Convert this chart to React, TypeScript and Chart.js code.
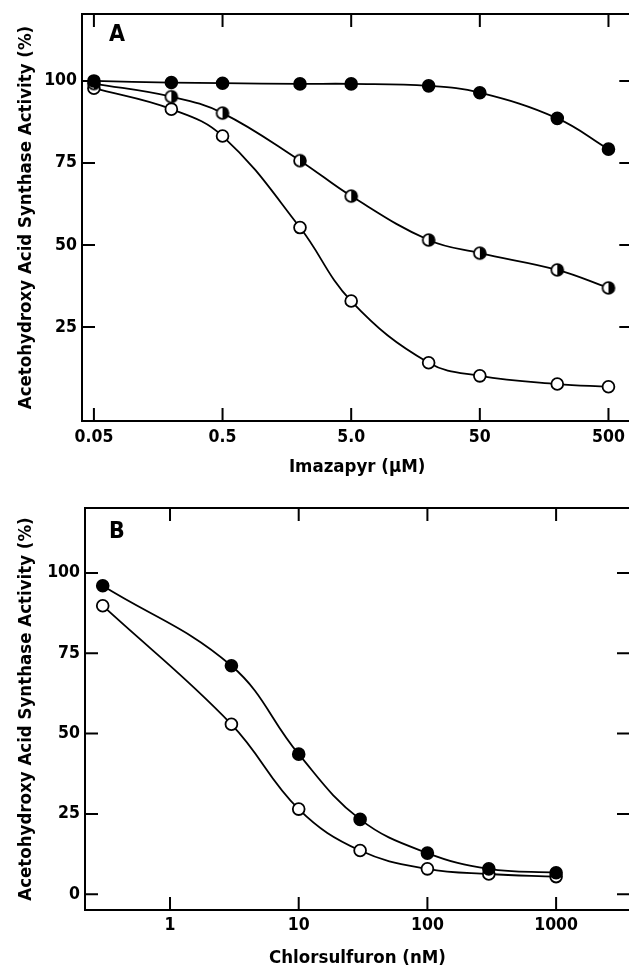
import React, { useEffect, useRef } from "react";
import { Chart, registerables } from "chart.js";

Chart.register(...registerables);

// ---------- Panel A: Imazapyr ----------
const imazapyrConc = [0.05, 0.2, 0.5, 2, 5, 20, 50, 200, 500];
const imazapyrFilled = [100, 99.5, 99.3, 99.1, 99.1, 98.5, 96.4, 88.6, 79.2];
const imazapyrHalf = [99.2, 95.2, 90.2, 75.7, 64.9, 51.5, 47.5, 42.4, 36.9];
const imazapyrOpen = [97.8, 91.4, 83.2, 55.3, 32.9, 14.1, 10.1, 7.6, 6.8];
const imazapyrTicks = [0.05, 0.5, 5, 50, 500];
const imazapyrTickLabels = ["0.05", "0.5", "5.0", "50", "500"];
const panelAYTicks = [25, 50, 75, 100];

// ---------- Panel B: Chlorsulfuron ----------
const chlorConc = [0.3, 3, 10, 30, 100, 300, 1000];
const chlorFilled = [96.0, 71.1, 43.6, 23.3, 12.8, 7.9, 6.7];
const chlorOpen = [89.8, 52.9, 26.5, 13.6, 7.9, 6.3, 5.5];
const chlorTicks = [1, 10, 100, 1000];
const chlorTickLabels = ["1", "10", "100", "1000"];
const panelBYTicks = [0, 25, 50, 75, 100];

const yTitle = "Acetohydroxy Acid Synthase Activity (%)";
const FONT = "'DejaVu Sans Condensed', 'DejaVu Sans', sans-serif";
const R = 5.9;

function halfMarker(): HTMLCanvasElement {
  const c = document.createElement("canvas");
  c.width = 16;
  c.height = 16;
  const ctx = c.getContext("2d")!;
  ctx.beginPath();
  ctx.arc(8, 8, R, 0, Math.PI * 2);
  ctx.fillStyle = "#fff";
  ctx.fill();
  ctx.beginPath();
  ctx.moveTo(8, 8);
  ctx.arc(8, 8, R, -Math.PI / 2, Math.PI / 2);
  ctx.closePath();
  ctx.fillStyle = "#000";
  ctx.fill();
  ctx.beginPath();
  ctx.arc(8, 8, R, 0, Math.PI * 2);
  ctx.lineWidth = 1.8;
  ctx.strokeStyle = "#000";
  ctx.stroke();
  return c;
}

type Panel = {
  w: number;
  h: number;
  left: number;
  right: number;
  top: number;
  bottom: number;
  xMin: number;
  xMax: number;
  yMin: number;
  yMax: number;
  xTicks: number[];
  xLabels: string[];
  yTicks: number[];
  xTitle: string;
  xTitlePad: number;
  xTickPad: number;
  letter: string;
  letterX: number;
  letterY: number;
  datasets: any[];
};

function line(data: number[], xs: number[], style: any) {
  return {
    data: xs.map((x, i) => ({ x, y: data[i] })),
    borderColor: "#000",
    borderWidth: 1.8,
    tension: 0.4,
    pointRadius: R,
    pointBorderWidth: 1.8,
    pointBorderColor: "#000",
    ...style,
  };
}

function makeConfig(p: Panel): any {
  const framePlugin = {
    id: "frame" + p.letter,
    beforeDatasetsDraw(chart: any) {
      const { ctx, chartArea: a, scales } = chart;
      ctx.save();
      ctx.strokeStyle = "#000";
      ctx.lineWidth = 2;
      ctx.strokeRect(a.left, a.top, a.right - a.left, a.bottom - a.top);
      const TL = 13;
      ctx.beginPath();
      scales.x.ticks.forEach((t: any) => {
        const px = scales.x.getPixelForValue(t.value);
        ctx.moveTo(px, a.bottom);
        ctx.lineTo(px, a.bottom - TL);
        ctx.moveTo(px, a.top);
        ctx.lineTo(px, a.top + TL);
      });
      scales.y.ticks.forEach((t: any) => {
        const py = scales.y.getPixelForValue(t.value);
        ctx.moveTo(a.left, py);
        ctx.lineTo(a.left + TL, py);
        ctx.moveTo(a.right, py);
        ctx.lineTo(a.right - TL, py);
      });
      ctx.stroke();
      ctx.fillStyle = "#000";
      ctx.font = `bold 23px ${FONT}`;
      ctx.textAlign = "center";
      ctx.textBaseline = "middle";
      ctx.fillText(p.letter, p.letterX, p.letterY);
      ctx.restore();
    },
  };

  return {
    type: "line",
    data: { datasets: p.datasets },
    plugins: [framePlugin],
    options: {
      animation: false,
      responsive: false,
      events: [],
      layout: {
        padding: { left: 0, top: p.top, right: p.w - p.right, bottom: 0 },
      },
      plugins: { legend: { display: false }, tooltip: { enabled: false } },
      scales: {
        x: {
          type: "logarithmic",
          min: p.xMin,
          max: p.xMax,
          grid: { display: false, drawTicks: false },
          border: { display: false },
          afterBuildTicks: (s: any) => {
            s.ticks = p.xTicks.map((v) => ({ value: v }));
          },
          afterFit: (s: any) => {
            s.height = p.h - p.bottom;
            s.paddingLeft = 0;
            s.paddingRight = 0;
          },
          ticks: {
            color: "#000",
            padding: p.xTickPad,
            maxRotation: 0,
            autoSkip: false,
            font: { family: FONT, size: 17.5, weight: "bold" },
            callback: (_v: any, i: number) => p.xLabels[i],
          },
          title: {
            display: true,
            text: p.xTitle,
            color: "#000",
            padding: { top: 0, bottom: p.xTitlePad },
            font: { family: FONT, size: 18.5, weight: "bold" },
          },
        },
        y: {
          type: "linear",
          min: p.yMin,
          max: p.yMax,
          grid: { display: false, drawTicks: false },
          border: { display: false },
          afterBuildTicks: (s: any) => {
            s.ticks = p.yTicks.map((v) => ({ value: v }));
          },
          afterFit: (s: any) => {
            s.width = p.left;
            s.paddingTop = 0;
            s.paddingBottom = 0;
          },
          ticks: {
            color: "#000",
            padding: 5,
            autoSkip: false,
            font: { family: FONT, size: 17.5, weight: "bold" },
            callback: (v: any) => String(v),
          },
          title: {
            display: true,
            text: yTitle,
            color: "#000",
            padding: { top: 15, bottom: 0 },
            font: { family: FONT, size: 18.5, weight: "bold" },
          },
        },
      },
    },
  };
}

function PanelChart({ panel, top }: { panel: Panel; top: number }) {
  const ref = useRef<HTMLCanvasElement>(null);
  useEffect(() => {
    if (!ref.current) return;
    const chart = new Chart(ref.current, makeConfig(panel));
    return () => chart.destroy();
  }, []);
  return (
    <canvas
      ref={ref}
      width={panel.w}
      height={panel.h}
      style={{ position: "absolute", left: 0, top, width: panel.w, height: panel.h }}
    />
  );
}

export default function App() {
  const half = halfMarker();
  const panelA: Panel = {
    w: 640,
    h: 484,
    left: 82,
    right: 636,
    top: 14,
    bottom: 421,
    xMin: 0.0404,
    xMax: 766,
    yMin: -3.66,
    yMax: 120.4,
    xTicks: imazapyrTicks,
    xLabels: imazapyrTickLabels,
    yTicks: panelAYTicks,
    xTitle: "Imazapyr (\u03BCM)",
    xTitlePad: 6,
    xTickPad: 6,
    letter: "A",
    letterX: 117,
    letterY: 35,
    datasets: [
      line(imazapyrFilled, imazapyrConc, { pointStyle: "circle", pointBackgroundColor: "#000" }),
      line(imazapyrHalf, imazapyrConc, { pointStyle: half }),
      line(imazapyrOpen, imazapyrConc, { pointStyle: "circle", pointBackgroundColor: "#fff" }),
    ],
  };
  const panelB: Panel = {
    w: 640,
    h: 484,
    left: 85,
    right: 630,
    top: 24,
    bottom: 426,
    xMin: 0.2185,
    xMax: 3751,
    yMin: -4.9,
    yMax: 120.2,
    xTicks: chlorTicks,
    xLabels: chlorTickLabels,
    yTicks: panelBYTicks,
    xTitle: "Chlorsulfuron (nM)",
    xTitlePad: -1,
    xTickPad: 5,
    letter: "B",
    letterX: 117,
    letterY: 48,
    datasets: [
      line(chlorFilled, chlorConc, { pointStyle: "circle", pointBackgroundColor: "#000" }),
      line(chlorOpen, chlorConc, { pointStyle: "circle", pointBackgroundColor: "#fff" }),
    ],
  };
  return (
    <div
      style={{
        position: "absolute",
        left: 0,
        top: 0,
        width: 629,
        height: 968,
        overflow: "hidden",
        background: "#fff",
      }}
    >
      <PanelChart panel={panelA} top={0} />
      <PanelChart panel={panelB} top={484} />
    </div>
  );
}
